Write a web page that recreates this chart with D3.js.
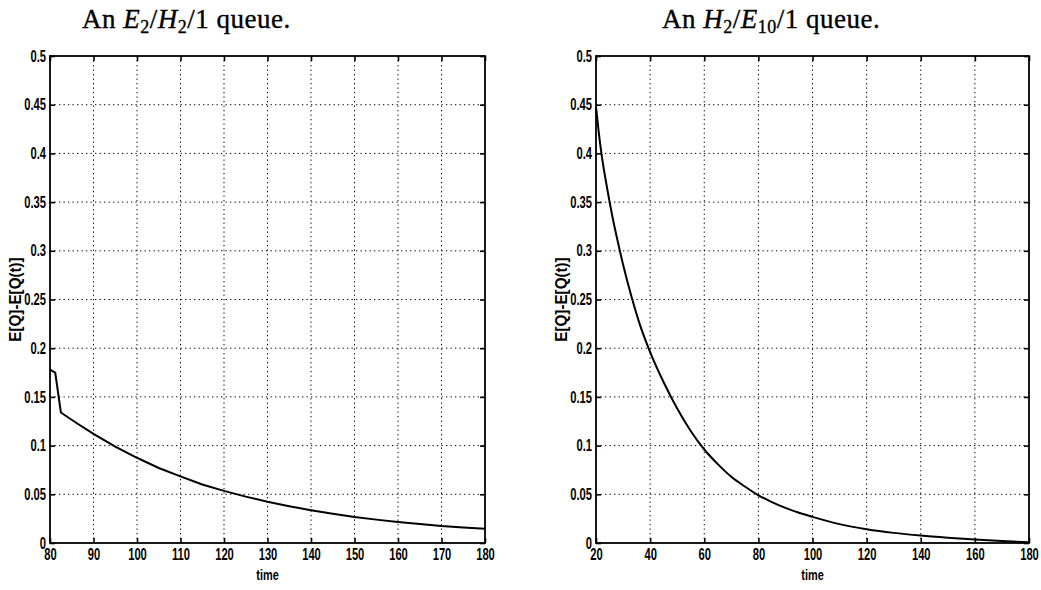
<!DOCTYPE html>
<html lang="en">

<head>
  <meta charset="UTF-8">
  <title>Queue transients</title>
  <style>
    body {
      margin: 0;
      background: #fff;
    }

    .tick-label {
      font-family: "Liberation Sans", Arial, sans-serif;
      font-weight: bold;
      font-size: 16px;
      fill: #000;
    }

    .title {
      font-family: "Liberation Serif", "DejaVu Serif", serif;
      font-size: 27px;
      letter-spacing: 0.5px;
      fill: #000;
      stroke: #000;
      stroke-width: 0.35px;
    }
  </style>
</head>

<body>

  <script src="https://d3js.org/d3.v7.min.js"></script>

  <script>
    // E2/H2/1 queue
    const leftTime = [80, 81.2, 82.5, 86, 90, 95, 100, 105, 110, 115, 120, 125, 130, 135, 140, 145, 150, 155, 160, 165, 170, 175, 180];
    const leftGap = [0.178, 0.175, 0.134, 0.1235, 0.112, 0.099, 0.0875, 0.077, 0.0684, 0.060, 0.0535, 0.0476, 0.0424, 0.0378, 0.0337, 0.030, 0.0267, 0.024, 0.0215, 0.0194, 0.0174, 0.016, 0.0146];

    // H2/E10/1 queue
    const rightTime = [20, 21, 22, 24, 26, 28, 30, 33, 36, 40, 45, 50, 55, 60, 65, 70, 75, 80, 85, 90, 95, 100, 110, 120, 130, 140, 150, 160, 170, 180];
    const rightGap = [0.448, 0.422, 0.400, 0.366, 0.336, 0.310, 0.286, 0.254, 0.226, 0.196, 0.165, 0.138, 0.115, 0.096, 0.081, 0.068, 0.058, 0.049, 0.042, 0.036, 0.031, 0.0268, 0.0194, 0.0142, 0.0104, 0.0076, 0.0054, 0.0035, 0.002, 0.0007];

    const leftXTicks = [80, 90, 100, 110, 120, 130, 140, 150, 160, 170, 180];
    const rightXTicks = [20, 40, 60, 80, 100, 120, 140, 160, 180];
    const yTicks = [0, 0.05, 0.1, 0.15, 0.2, 0.25, 0.3, 0.35, 0.4, 0.45, 0.5];
    const yTickLabels = ["0", "0.05", "0.1", "0.15", "0.2", "0.25", "0.3", "0.35", "0.4", "0.45", "0.5"];

    const squeeze = 0.7; // the scanned labels are set in a condensed bold face

    const svg = d3.select("body")
      .append("svg")
      .attr("width", 1041)
      .attr("height", 590);

    function drawPanel(p) {
      const x = d3.scaleLinear().domain(p.xDomain).range([p.left, p.right]);
      const y = d3.scaleLinear().domain([0, 0.5]).range([p.bottom, p.top]);
      const g = svg.append("g");

      // dotted grid
      g.append("g")
        .selectAll("line")
        .data(p.xTicks.slice(1, -1))
        .join("line")
        .attr("x1", d => x(d)).attr("x2", d => x(d))
        .attr("y1", p.top).attr("y2", p.bottom)
        .attr("stroke", "#000").attr("stroke-width", 1)
        .attr("stroke-dasharray", "1.3,3.2");

      g.append("g")
        .selectAll("line")
        .data(yTicks.slice(1, -1))
        .join("line")
        .attr("x1", p.left).attr("x2", p.right)
        .attr("y1", d => y(d)).attr("y2", d => y(d))
        .attr("stroke", "#000").attr("stroke-width", 1)
        .attr("stroke-dasharray", "1.3,3.2");

      // axes with inward ticks on all sides
      const tk = 5;
      g.append("g")
        .attr("transform", `translate(0,${p.bottom})`)
        .call(d3.axisBottom(x).tickValues(p.xTicks).tickSize(-tk).tickPadding(6))
        .call(a => a.select(".domain").remove());
      g.append("g")
        .attr("transform", `translate(0,${p.top})`)
        .call(d3.axisTop(x).tickValues(p.xTicks).tickSize(-tk).tickFormat(""))
        .call(a => a.select(".domain").remove());
      const leftAxis = g.append("g")
        .attr("transform", `translate(${p.left},0)`)
        .call(d3.axisLeft(y).tickValues(yTicks).tickSize(-tk).tickPadding(5)
          .tickFormat((d, i) => yTickLabels[i]))
        .call(a => a.select(".domain").remove());
      g.append("g")
        .attr("transform", `translate(${p.right},0)`)
        .call(d3.axisRight(y).tickValues(yTicks).tickSize(-tk).tickFormat(""))
        .call(a => a.select(".domain").remove());

      g.selectAll(".tick line").attr("stroke", "#000").attr("stroke-width", 1.6);
      g.selectAll(".tick text")
        .attr("class", "tick-label")
        .attr("font-family", null)
        .attr("font-size", null)
        .attr("transform", `scale(${squeeze},1)`);
      leftAxis.selectAll(".tick text").attr("x", -4 / squeeze);

      // frame
      g.append("rect")
        .attr("x", p.left).attr("y", p.top)
        .attr("width", p.right - p.left).attr("height", p.bottom - p.top)
        .attr("fill", "none").attr("stroke", "#000").attr("stroke-width", 1.8);

      // curve
      const pts = p.time.map((t, i) => [t, p.gap[i]]);
      g.append("path")
        .datum(pts)
        .attr("fill", "none")
        .attr("stroke", "#000")
        .attr("stroke-width", 2)
        .attr("d", d3.line().x(d => x(d[0])).y(d => y(d[1])).curve(p.curve));

      // axis titles
      g.append("text")
        .attr("class", "tick-label")
        .attr("transform", `translate(${(p.left + p.right) / 2},580) scale(0.78,1)`)
        .attr("text-anchor", "middle")
        .style("font-size", "14px")
        .text("time");

      g.append("text")
        .attr("class", "tick-label")
        .attr("transform", `translate(${p.ylabelX},${(p.top + p.bottom) / 2}) rotate(-90) scale(0.95,1)`)
        .attr("text-anchor", "middle")
        .style("font-size", "16px")
        .text("E[Q]-E[Q(t)]");

      // title
      const title = g.append("text")
        .attr("class", "title")
        .attr("x", p.titleX)
        .attr("y", 28);
      title.append("tspan").text("An ");
      title.append("tspan").attr("font-style", "italic").text(p.a);
      title.append("tspan").attr("font-size", "18px").attr("dy", 5).text(p.aSub);
      title.append("tspan").attr("dy", -5).text("/");
      title.append("tspan").attr("font-style", "italic").text(p.b);
      title.append("tspan").attr("font-size", "18px").attr("dy", 5).text(p.bSub);
      title.append("tspan").attr("dy", -5).text("/1 queue.");
    }

    drawPanel({
      left: 50, right: 485, top: 56, bottom: 543,
      xDomain: [80, 180], xTicks: leftXTicks,
      time: leftTime, gap: leftGap, curve: d3.curveLinear,
      ylabelX: 21, titleX: 82,
      a: "E", aSub: "2", b: "H", bSub: "2"
    });

    drawPanel({
      left: 596, right: 1029, top: 56, bottom: 543,
      xDomain: [20, 180], xTicks: rightXTicks,
      time: rightTime, gap: rightGap, curve: d3.curveMonotoneX,
      ylabelX: 567, titleX: 662,
      a: "H", aSub: "2", b: "E", bSub: "10"
    });
  </script>
</body>

</html>
